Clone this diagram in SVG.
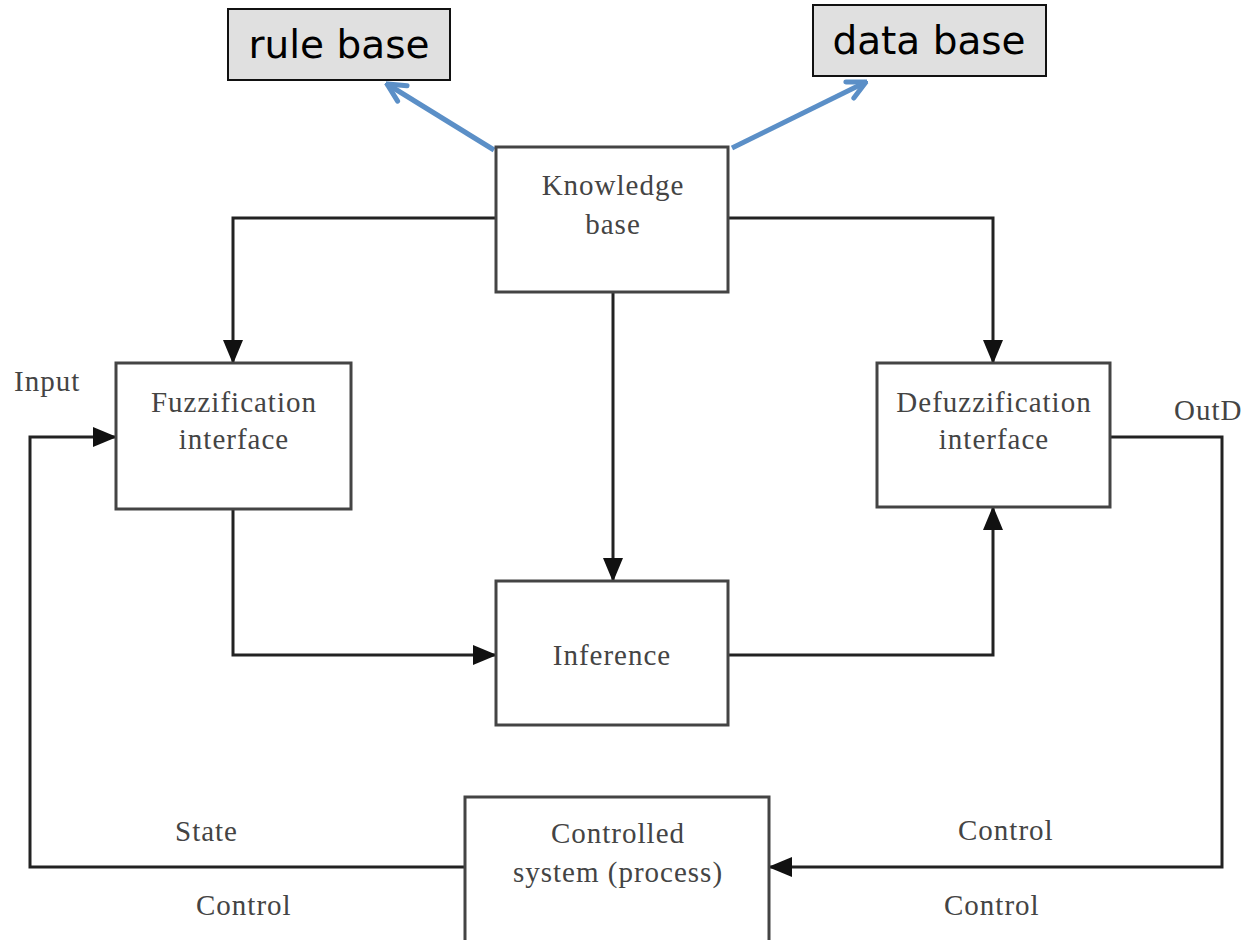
<svg xmlns="http://www.w3.org/2000/svg" width="1248" height="940" viewBox="0 0 1248 940">
<style>
.box{fill:#fff;stroke:#444;stroke-width:3}
.tag{fill:#e0e0e0;stroke:#111;stroke-width:2}
.t{font-family:"Liberation Serif",serif;font-size:29px;letter-spacing:1px;fill:#444;text-anchor:middle}
.l{font-family:"Liberation Serif",serif;font-size:29px;letter-spacing:1px;fill:#444}
.tt{font-family:"DejaVu Sans",sans-serif;font-size:39px;fill:#000;text-anchor:middle}
.c{fill:none;stroke:#222;stroke-width:3}
.b{fill:none;stroke:#5b8fc7;stroke-width:5}
</style>
<defs>
<marker id="ar" markerWidth="24" markerHeight="24" refX="22" refY="12" orient="auto" markerUnits="userSpaceOnUse" viewBox="0 0 24 24">
<path d="M4,3 L22,12 L4,21" fill="none" stroke="#5b8fc7" stroke-width="5" stroke-linecap="round"/>
</marker>
<marker id="bh" markerWidth="24" markerHeight="24" refX="22" refY="12" orient="auto" markerUnits="userSpaceOnUse" viewBox="0 0 24 24">
<path d="M0,2 L24,12 L0,22 z" fill="#111"/>
</marker>
</defs>
<g id="connectors">
<path class="b" d="M494,150 L387,84" marker-end="url(#ar)"/>
<path class="b" d="M732,148 L866,82" marker-end="url(#ar)"/>
<path class="c" d="M496,218 H233 V362" marker-end="url(#bh)"/>
<path class="c" d="M728,218 H993 V362" marker-end="url(#bh)"/>
<path class="c" d="M613,292 V580" marker-end="url(#bh)"/>
<path class="c" d="M233,509 V655 H495" marker-end="url(#bh)"/>
<path class="c" d="M728,655 H993 V508" marker-end="url(#bh)"/>
<path class="c" d="M1110,437 H1222 V867 H770" marker-end="url(#bh)"/>
<path class="c" d="M465,867 H30 V437 H115" marker-end="url(#bh)"/>
</g>
<g id="rule-base">
<rect class="tag" x="228" y="9" width="222" height="71"/>
<text class="tt" x="339" y="58">rule base</text>
</g>
<g id="data-base">
<rect class="tag" x="813" y="5" width="233" height="71"/>
<text class="tt" x="929" y="54">data base</text>
</g>
<g id="knowledge-base">
<rect class="box" x="496" y="147" width="232" height="145"/>
<text class="t" x="613" y="195">Knowledge</text>
<text class="t" x="613" y="234">base</text>
</g>
<g id="fuzzification">
<rect class="box" x="116" y="363" width="235" height="146"/>
<text class="t" x="234" y="412">Fuzzification</text>
<text class="t" x="234" y="449">interface</text>
</g>
<g id="defuzzification">
<rect class="box" x="877" y="363" width="233" height="144"/>
<text class="t" x="994" y="412">Defuzzification</text>
<text class="t" x="994" y="449">interface</text>
</g>
<g id="inference">
<rect class="box" x="496" y="581" width="232" height="144"/>
<text class="t" x="612" y="665">Inference</text>
</g>
<g id="controlled-system">
<rect class="box" x="465" y="797" width="304" height="150"/>
<text class="t" x="618" y="843">Controlled</text>
<text class="t" x="618" y="882">system (process)</text>
</g>
<g id="labels">
<text class="l" x="14" y="391">Input</text>
<text class="l" x="1174" y="420">OutD</text>
<text class="l" x="175" y="841">State</text>
<text class="l" x="196" y="915">Control</text>
<text class="l" x="958" y="840">Control</text>
<text class="l" x="944" y="915">Control</text>
</g>
</svg>
